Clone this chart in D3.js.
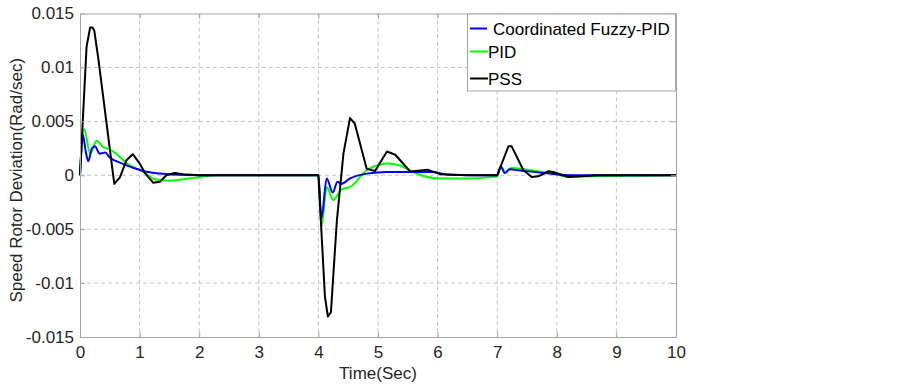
<!DOCTYPE html>
<html>
<head>
<meta charset="utf-8">
<script src="https://cdn.jsdelivr.net/npm/d3@7"></script>
<style>
  body { margin: 0; background: #fff; }
  text { font-family: "Liberation Sans", Arial, sans-serif; }
</style>
</head>
<body>
<div id="chart"></div>
<script>
// Data (time in sec, speed deviation in rad/sec)
const xTicks = [0, 1, 2, 3, 4, 5, 6, 7, 8, 9, 10];
const yTicks = [-0.015, -0.01, -0.005, 0, 0.005, 0.01, 0.015];
const yTickLabels = ["-0.015", "-0.01", "-0.005", "0", "0.005", "0.01", "0.015"];
const seriesNames = ["Coordinated Fuzzy-PID", "PID", "PSS"];

const fuzzyT = [0, 0.05, 0.09, 0.14, 0.2, 0.25, 0.33, 0.42, 0.5, 0.7, 0.84, 1.06, 1.34, 1.8, 2.2,
  4.0, 4.05, 4.14, 4.24, 4.32, 4.38, 4.53, 4.81, 5.15, 5.9, 6.2,
  7.0, 7.06, 7.13, 7.21, 7.38, 7.8, 8.3, 10];
const fuzzyV = [0, 0.0037, 0.0024, 0.0013, 0.0025, 0.0027, 0.002, 0.0021, 0.00165, 0.0011, 0.0008, 0.0004, 0.00016, 0.00002, 0,
  0, -0.004, -0.0003, -0.0016, -0.0006, -0.0008, -0.0003, 0.00015, 0.0003, 0.0003, 0.00005,
  0, 0.00077, 0.0002, 0.00055, 0.00045, 0.0002, 0, 0];

const pidT = [0, 0.07, 0.17, 0.28, 0.39, 0.5, 0.84, 1.07, 1.27, 1.5, 1.96, 2.3, 3.5,
  4.0, 4.05, 4.14, 4.25, 4.39, 4.53, 4.81, 4.98, 5.15, 5.37, 5.59, 5.82, 6.04, 6.5, 6.93,
  7.0, 7.06, 7.13, 7.24, 7.55, 7.89, 8.22, 8.6, 9.2, 10];
const pidV = [0, 0.0043, 0.002, 0.0032, 0.0026, 0.0024, 0.0009, 0.0003, -0.0004, -0.0005, -0.0002, 0, 0,
  0, -0.0048, -0.0011, -0.0023, -0.0013, -0.0011, 0.00046, 0.0009, 0.0011, 0.0009, 0.0003, -0.00016, -0.0003, -0.0003, -0.00015,
  -0.0001, 0.0009, 0.0003, 0.00068, 0.00046, 0.0002, -0.00016, -0.0001, -0.00005, 0];

const pssT = [0, 0.11, 0.17, 0.21, 0.24, 0.31, 0.575, 0.67, 0.78, 0.885, 1.0, 1.09, 1.23, 1.34, 1.45, 1.59, 1.73, 2.0,
  4.0, 4.11, 4.16, 4.21, 4.31, 4.42, 4.53, 4.61, 4.81, 4.95, 5.15, 5.29, 5.54, 5.84, 6.04, 6.5,
  7.0, 7.19, 7.24, 7.44, 7.58, 7.69, 7.86, 7.94, 8.19, 8.39, 8.7, 10];
const pssV = [0, 0.0119, 0.0137, 0.0137, 0.0134, 0.0107, -0.0008, -0.0002, 0.0014, 0.00195, 0.0011, 0.0002, -0.0007, -0.0006, 0, 0.0002, 0.0001, 0,
  0, -0.0113, -0.0131, -0.0127, -0.0042, 0.002, 0.0053, 0.0048, 0.0006, 0.0004, 0.0022, 0.0019, 0.00035, 0.0005, 0.0001, 0,
  0, 0.0027, 0.0027, 0.00046, -0.00016, -0.0001, 0.00037, 0.0003, -0.00016, -0.0001, 0, 0];

const colors = ["#0000ff", "#00ff00", "#000000"];

// Layout
const W = 900, H = 384;
const margin = { top: 13.5, right: 224, bottom: 47, left: 80 };
const width = W - margin.left - margin.right;
const height = H - margin.top - margin.bottom;
const fontSize = "17px";

const svg = d3.select("#chart").append("svg")
    .attr("width", W)
    .attr("height", H);

const g = svg.append("g")
    .attr("transform", "translate(" + margin.left + "," + margin.top + ")");

const x = d3.scaleLinear().domain([0, 10]).range([0, width]);
const y = d3.scaleLinear().domain([-0.015, 0.015]).range([height, 0]);

// Grid
g.append("g").selectAll("line").data(xTicks.slice(1, -1)).join("line")
    .attr("x1", d => x(d)).attr("x2", d => x(d))
    .attr("y1", 0).attr("y2", height)
    .attr("stroke", "#c4c4c4").attr("stroke-dasharray", "4,3");
g.append("g").selectAll("line").data(yTicks.slice(1, -1)).join("line")
    .attr("x1", 0).attr("x2", width)
    .attr("y1", d => y(d)).attr("y2", d => y(d))
    .attr("stroke", "#c4c4c4").attr("stroke-dasharray", "4,3");

// Lines
const line = d3.line()
    .x(d => x(d[0]))
    .y(d => y(d[1]));
const smooth = d3.line()
    .x(d => x(d[0]))
    .y(d => y(d[1]))
    .curve(d3.curveMonotoneX);

const pidData = pidT.map((t, i) => [t, pidV[i]]);
const fuzzyData = fuzzyT.map((t, i) => [t, fuzzyV[i]]);
const pssData = pssT.map((t, i) => [t, pssV[i]]);

g.append("path").datum(pidData).attr("d", smooth)
    .attr("fill", "none").attr("stroke", colors[1]).attr("stroke-width", 2);
g.append("path").datum(fuzzyData).attr("d", smooth)
    .attr("fill", "none").attr("stroke", colors[0]).attr("stroke-width", 2);
g.append("path").datum(pssData).attr("d", line)
    .attr("fill", "none").attr("stroke", colors[2]).attr("stroke-width", 2)
    .attr("stroke-linejoin", "round");

// Axes (ticks inside, box all round)
const axisColor = "#a6a6a6";
const styleAxis = sel => {
    sel.select(".domain").attr("stroke", axisColor);
    sel.selectAll(".tick line").attr("stroke", axisColor);
    sel.selectAll(".tick text").attr("fill", "#262626")
        .style("font-size", fontSize).style("font-family", "'Liberation Sans', Arial, sans-serif");
};

g.append("g")
    .attr("transform", "translate(0," + height + ")")
    .call(d3.axisBottom(x).tickValues(xTicks).tickSizeInner(-5).tickSizeOuter(0).tickPadding(9))
    .call(styleAxis);
g.append("g")
    .call(d3.axisTop(x).tickValues(xTicks).tickSizeInner(-5).tickSizeOuter(0).tickFormat(""))
    .call(styleAxis);
g.append("g")
    .call(d3.axisLeft(y).tickValues(yTicks).tickSizeInner(-5).tickSizeOuter(0).tickPadding(6)
        .tickFormat((d, i) => yTickLabels[i]))
    .call(styleAxis);
g.append("g")
    .attr("transform", "translate(" + width + ",0)")
    .call(d3.axisRight(y).tickValues(yTicks).tickSizeInner(-5).tickSizeOuter(0).tickFormat(""))
    .call(styleAxis);

// Axis titles
g.append("text")
    .attr("x", width / 2).attr("y", height + 42)
    .attr("text-anchor", "middle")
    .attr("fill", "#262626").style("font-size", fontSize)
    .text("Time(Sec)");
g.append("text")
    .attr("transform", "translate(" + (-58) + "," + (height / 2 + 5) + ") rotate(-90)")
    .attr("text-anchor", "middle")
    .attr("fill", "#262626").style("font-size", fontSize)
    .text("Speed Rotor Deviation(Rad/sec)");

// Legend
const legend = g.append("g").attr("transform", "translate(" + (width - 209) + ",0)");
legend.append("rect")
    .attr("x", 0.5).attr("y", 0.5).attr("width", 208).attr("height", 77)
    .attr("fill", "#fff").attr("stroke", axisColor);
const legX1 = [3, 3, 3], legX2 = [20, 21, 21], legTx = [26, 21, 21], legY = [15, 38, 65];
seriesNames.forEach((name, i) => {
    const ly = legY[i];
    legend.append("line")
        .attr("x1", legX1[i]).attr("x2", legX2[i])
        .attr("y1", ly).attr("y2", ly)
        .attr("stroke", colors[i]).attr("stroke-width", 2);
    legend.append("text")
        .attr("x", legTx[i]).attr("y", ly + 6)
        .attr("fill", "#000").style("font-size", fontSize)
        .text(name);
});
</script>
</body>
</html>
